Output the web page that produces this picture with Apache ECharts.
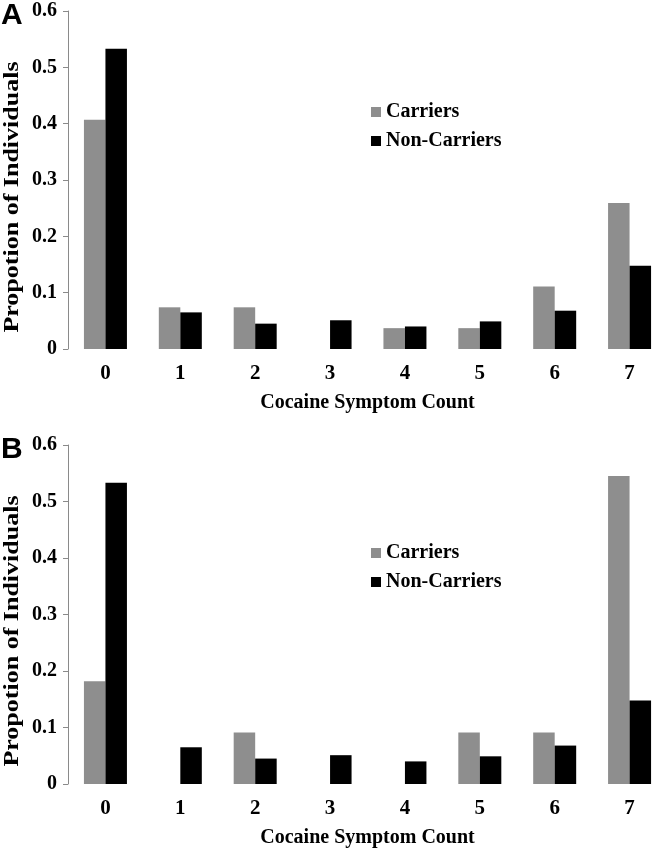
<!DOCTYPE html>
<html>
<head>
<meta charset="utf-8">
<script src="https://cdn.jsdelivr.net/npm/echarts@6/dist/echarts.min.js"></script>
<style>
  html, body { margin: 0; padding: 0; background: #fff; }
  #main { width: 667px; height: 849px; }
</style>
</head>
<body>
<div id="main"></div>
<script>
// symptom count categories
const categories = ['0', '1', '2', '3', '4', '5', '6', '7'];
const yTicks = [0, 0.1, 0.2, 0.3, 0.4, 0.5, 0.6];

// panel A
const carriersA = [0.407, 0.074, 0.074, 0, 0.037, 0.037, 0.111, 0.259];
const nonCarriersA = [0.533, 0.065, 0.045, 0.051, 0.040, 0.049, 0.068, 0.148];
// panel B
const carriersB = [0.182, 0, 0.091, 0, 0, 0.091, 0.091, 0.545];
const nonCarriersB = [0.533, 0.065, 0.045, 0.051, 0.040, 0.049, 0.068, 0.148];

const GRAY = '#8e8e8e';
const serif = '"Liberation Serif", "DejaVu Serif", serif';

const chart = echarts.init(document.getElementById('main'), null, { renderer: 'canvas' });

function xAx(gi) {
  return {
    type: 'category',
    gridIndex: gi,
    data: categories,
    axisLine: { show: false },
    axisTick: { show: false },
    axisLabel: { margin: 14, color: '#000', fontFamily: serif, fontWeight: 'bold', fontSize: 21 },
    name: 'Cocaine Symptom Count',
    nameLocation: 'middle',
    nameGap: 44,
    nameTextStyle: { color: '#000', fontFamily: serif, fontWeight: 'bold', fontSize: 20 }
  };
}

function yAx(gi) {
  return {
    type: 'value',
    gridIndex: gi,
    min: yTicks[0],
    max: yTicks[yTicks.length - 1],
    interval: 0.1,
    axisLine: { show: true, lineStyle: { color: '#8a8a8a', width: 1 } },
    axisTick: { show: true, length: 5, lineStyle: { color: '#8a8a8a' } },
    splitLine: { show: false },
    axisLabel: { margin: 11, color: '#000', fontFamily: serif, fontWeight: 'bold', fontSize: 20 }
  };
}

function bars(name, data, color, gi) {
  return {
    name: name,
    type: 'bar',
    xAxisIndex: gi,
    yAxisIndex: gi,
    data: data,
    barWidth: 21.5,
    barGap: '0%',
    itemStyle: { color: color },
    emphasis: { disabled: true }
  };
}

const legendText = { color: '#000', fontFamily: serif, fontWeight: 'bold', fontSize: 20 };

let option = {
  animation: false,
  backgroundColor: '#fff',
  grid: [
    { left: 68, right: -11, top: 11, bottom: 500 },
    { left: 68, right: -11, top: 445, bottom: 65 }
  ],
  legend: [
    {
      orient: 'vertical', left: 366, top: 97, itemWidth: 10, itemHeight: 10, itemGap: 9,
      icon: 'rect', textStyle: legendText, data: ['Carriers', 'Non-Carriers']
    },
    {
      orient: 'vertical', left: 366, top: 538, itemWidth: 10, itemHeight: 10, itemGap: 9,
      icon: 'rect', textStyle: legendText, data: ['Carriers B', 'Non-Carriers B'],
      formatter: function (n) { return n.replace(' B', ''); }
    }
  ],
  xAxis: [xAx(0), xAx(1)],
  yAxis: [yAx(0), yAx(1)],
  series: [
    bars('Carriers', carriersA, GRAY, 0),
    bars('Non-Carriers', nonCarriersA, '#000', 0),
    bars('Carriers B', carriersB, GRAY, 1),
    bars('Non-Carriers B', nonCarriersB, '#000', 1)
  ],
  graphic: [
    { type: 'text', left: 1, top: 1, style: { text: 'A', font: 'bold 30px "Liberation Sans", Arial, sans-serif', fill: '#000' } },
    { type: 'text', left: 1, top: 435, style: { text: 'B', font: 'bold 30px "Liberation Sans", Arial, sans-serif', fill: '#000' } },
    {
      type: 'text', x: 13, y: 197, rotation: Math.PI / 2, scaleX: 1.3,
      style: { text: 'Propotion of Individuals', font: 'bold 20px ' + serif, fill: '#000', align: 'center', verticalAlign: 'middle' }
    },
    {
      type: 'text', x: 13, y: 631, rotation: Math.PI / 2, scaleX: 1.3,
      style: { text: 'Propotion of Individuals', font: 'bold 20px ' + serif, fill: '#000', align: 'center', verticalAlign: 'middle' }
    }
  ]
};

chart.setOption(option);
</script>
</body>
</html>
